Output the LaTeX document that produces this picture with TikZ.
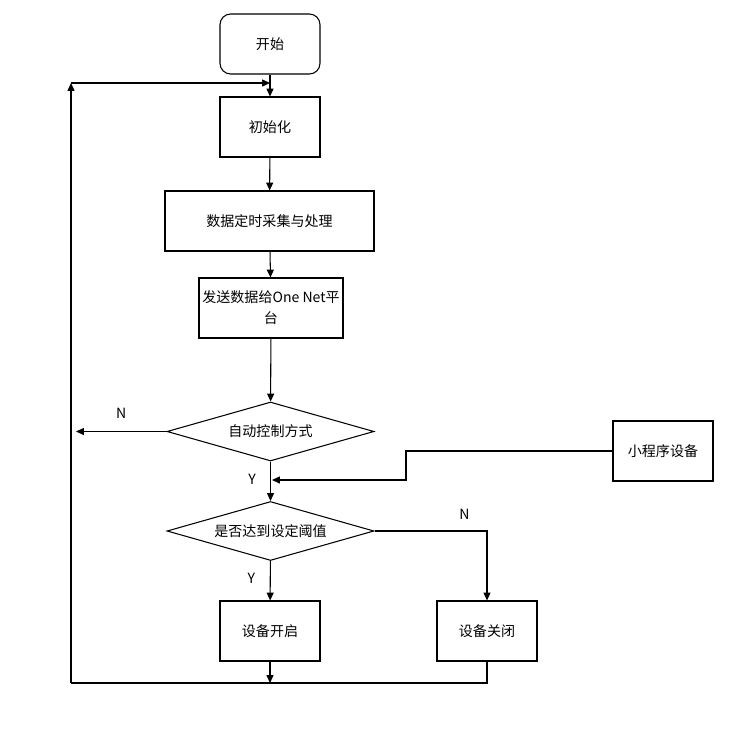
\documentclass[tikz,border=0pt]{standalone}
\usepackage{fontspec}
\setmainfont{Noto Sans CJK SC}
\usetikzlibrary{arrows.meta, shapes.geometric}

\tikzset{
  box/.style={draw, line width=0.6pt, minimum width=2cm, minimum height=1.2cm, inner sep=1pt, align=center, font=\fontsize{8}{12}\selectfont},
  decision/.style={draw, diamond, line width=0.6pt, aspect=3.5, inner sep=0pt, minimum width=4.14cm, minimum height=1.18cm, font=\fontsize{8}{12}\selectfont},
  lbl/.style={font=\fontsize{8}{10}\selectfont},
  flow/.style={line width=0.6pt, -{Triangle[length=4.5pt,width=4pt]}},
  wire/.style={line width=0.6pt}
}

\begin{document}
\begin{tikzpicture}[x=0.02cm, y=-0.02cm]
  \useasboundingbox (0,0) rectangle (731,734);
  % nodes
  \node[box, rounded corners=6pt] (start) at (270,44) {开始};
  \node[box] (init) at (270,127) {初始化};
  \node[box, minimum width=4.18cm] (collect) at (269.5,221) {数据定时采集与处理};
  \node[box, minimum width=2.88cm] (send) at (271,308) {发送数据给One Net平\\台};
  \node[decision] (auto) at (270.5,431.5) {自动控制方式};
  \node[box] (app) at (663,451) {小程序设备};
  \node[decision] (limit) at (270.5,531) {是否达到设定阈值};
  \node[box] (on) at (270,631) {设备开启};
  \node[box] (off) at (487,631) {设备关闭};
  \coordinate (tl) at (71,83);
  \coordinate (bl) at (71,683);
  \coordinate (join) at (270,683);
  \coordinate (nend) at (76,431.5);
  \coordinate (merge) at (272,480);
  % connectors
  \draw[flow] (start) -- (init);
  \draw[flow] (init) -- (collect);
  \draw[flow] (collect) -- (send);
  \draw[flow] (send) -- (auto);
  \draw[flow] (auto) -- (limit);
  \draw[flow] (auto.west) -- (nend) node[lbl, midway, above=4pt] {N};
  \draw[flow] (app.west) -| (406,480) -- (merge);
  \node[lbl] (y1) at (252,479) {Y};
  \draw[flow] (limit) -- (on) node[lbl, pos=0.45, left=5pt] {Y};
  \draw[flow] (limit.east) -| (off) node[lbl, pos=0.4, above=3pt] {N};
  \draw[flow] (on) -- (join);
  \draw[wire] (off.south) |- (bl);
  \draw[flow] (bl) -- (tl);
  \draw[flow] (tl) -- (270,83);
\end{tikzpicture}
\end{document}
